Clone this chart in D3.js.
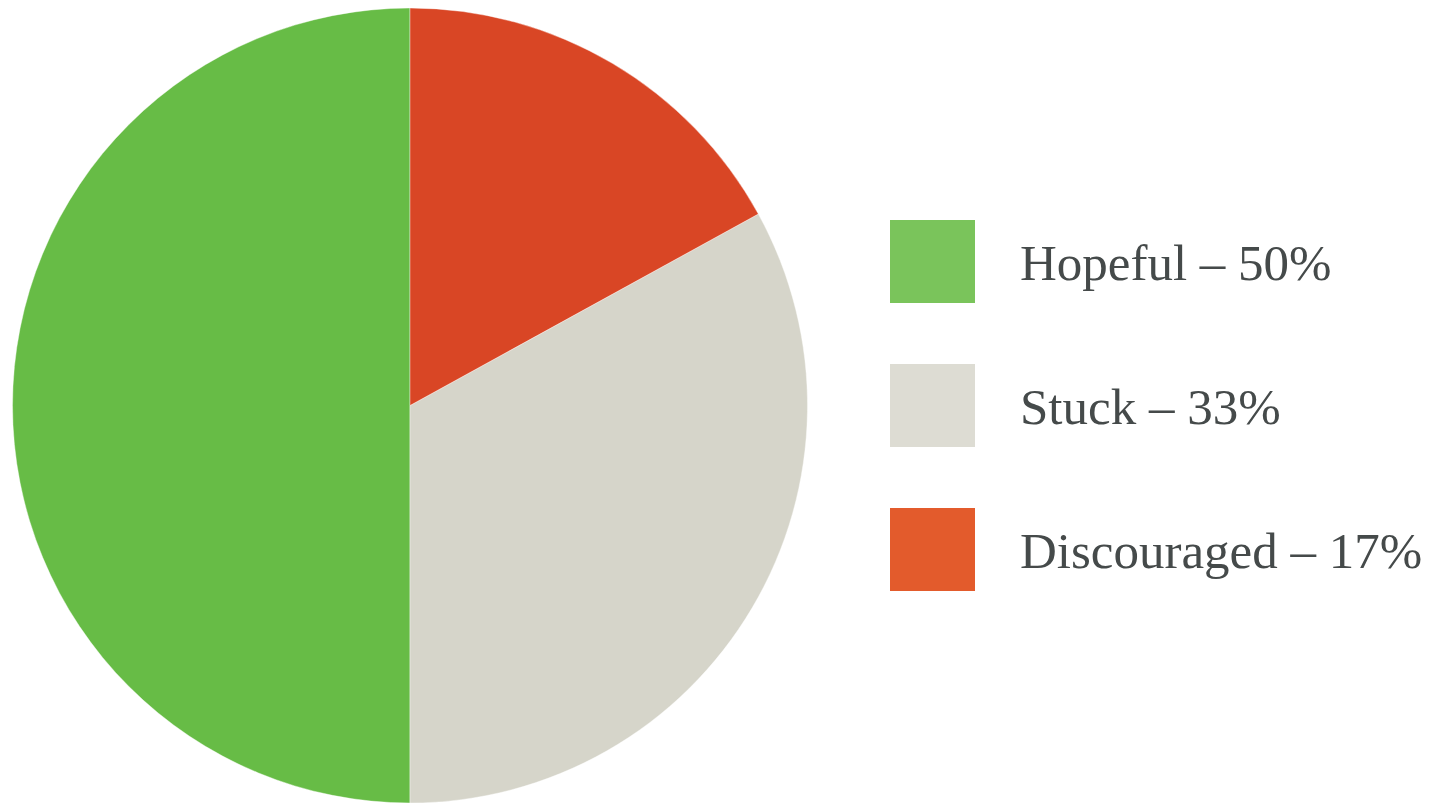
<!DOCTYPE html>
<html>
<head>
<meta charset="utf-8">
<script src="https://cdn.jsdelivr.net/npm/d3@7"></script>
<style>
  html, body { margin: 0; padding: 0; background: #ffffff; }
  #chart { width: 1435px; height: 804px; overflow: hidden; }
</style>
</head>
<body>
<div id="chart"></div>
<script>
// dados do gráfico
const categories = ["Hopeful", "Stuck", "Discouraged"];
const shares = [50, 33, 17];

// cores (fatia e legenda um pouco mais clara)
const sliceColors = ["#67bc46", "#d6d5ca", "#d94625"];
const legendColors = ["#7ac45b", "#dddcd3", "#e35b2c"];

const width = 1435, height = 804;

const svg = d3.select("#chart")
    .append("svg")
    .attr("width", width)
    .attr("height", height);

const data = categories.map((c, i) => ({ name: c, value: shares[i] }));

// pizza em sentido anti-horário a partir do topo
const pie = d3.pie()
    .sort(null)
    .value(d => d.value)
    .startAngle(0)
    .endAngle(-2 * Math.PI);

const radius = 397.5;
const arc = d3.arc().innerRadius(0).outerRadius(radius);

const g = svg.append("g")
    .attr("transform", `translate(410,405.5)`);

g.selectAll("path")
    .data(pie(data))
    .enter().append("path")
    .attr("d", arc)
    .attr("fill", (d, i) => sliceColors[i])
    .attr("stroke", "#ffffff")
    .attr("stroke-width", 0.4);

// legenda
const legendY = d3.scaleBand()
    .domain(categories)
    .range([220, 220 + 144 * 3])
    .paddingInner(0)
    .paddingOuter(0);

const legend = svg.append("g");

const items = legend.selectAll("g")
    .data(data)
    .enter().append("g")
    .attr("transform", d => `translate(890,${legendY(d.name)})`);

items.append("rect")
    .attr("width", 85)
    .attr("height", 83)
    .attr("fill", (d, i) => legendColors[i]);

items.append("text")
    .attr("x", 130)
    .attr("y", 60)
    .attr("font-family", "'Liberation Serif', 'DejaVu Serif', serif")
    .attr("font-size", 51)
    .attr("fill", "#454a4a")
    .text(d => `${d.name} – ${d.value}%`);
</script>
</body>
</html>
